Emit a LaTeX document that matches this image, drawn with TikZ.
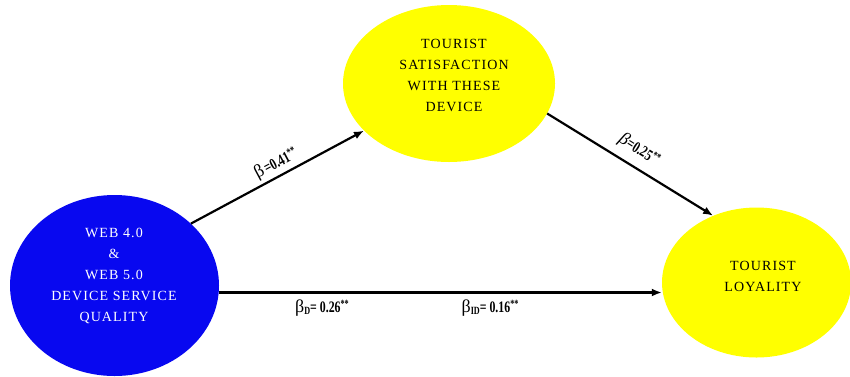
\documentclass[tikz,border=0pt]{standalone}
\usepackage{fontspec}
\usepackage{graphicx}
\setmainfont{Liberation Serif}
\usetikzlibrary{shapes.geometric,arrows.meta}
\definecolor{ovalblue}{RGB}{8,8,240}
\definecolor{ovalyellow}{RGB}{255,255,0}
\newcommand{\ovaltext}{\fontsize{14}{21}\selectfont\addfontfeature{LetterSpace=8}}
\newcommand{\coef}[1]{\scalebox{0.74}[1]{\fontsize{16}{16}\selectfont\bfseries #1}}
\newcommand{\bet}{{\fontsize{18}{18}\selectfont β}}
\newcommand{\ibet}{{\fontsize{18}{18}\selectfont\itshape β}}
\newcommand{\sups}{\raisebox{5pt}{\fontsize{11}{11}\selectfont **}}
\begin{document}
\begin{tikzpicture}[x=1pt,y=-1pt,
  oval/.style={ellipse, draw=none, inner sep=0pt},
  ovallabel/.style={align=center, inner sep=0pt, font=\ovaltext},
  arr/.style={line width=2.2pt, -{Latex[length=10pt,width=8pt]}},
  coeflabel/.style={inner sep=0pt}]
\useasboundingbox[fill=white] (0,0) rectangle (850,376);
% ovals
\node[oval, fill=ovalblue, minimum width=209pt, minimum height=181pt] (web) at (114.5,285.5) {};
\node[oval, fill=ovalyellow, minimum width=212pt, minimum height=157pt] (sat) at (449,83.5) {};
\node[oval, fill=ovalyellow, minimum width=189pt, minimum height=150pt] (loy) at (756.5,282.5) {};
% texts
\node[ovallabel, text=white] (webtxt) at (114,276) {WEB 4.0\\\&\\WEB 5.0\\DEVICE SERVICE\\QUALITY};
\node[ovallabel] (sattxt) at (454,75) {TOURIST\\SATISFACTION\\WITH THESE\\DEVICE};
\node[ovallabel] (loytxt) at (763,276) {TOURIST\\LOYALITY};
% connectors
\coordinate (hy) at (0,292.5);
\draw[arr] (web.39.8) -- (sat.209.7);
\draw[arr] (sat.343.8) -- (loy.123.1);
\draw[arr] (web.east |- hy) -- (loy.west |- hy);
% coefficient labels
\node[coeflabel, rotate=28] (c1) at (276,164) {\bet\,\coef{=0.41\sups}};
\node[coeflabel, rotate=-32] (c2) at (639,150) {\ibet\coef{=0.25\sups}};
\node[coeflabel] (c3) at (322,308) {\bet\coef{\raisebox{-2pt}{\fontsize{11}{11}\selectfont D}= 0.26\sups}};
\node[coeflabel] (c4) at (490,308) {\bet\coef{\raisebox{-2pt}{\fontsize{11}{11}\selectfont ID}= 0.16\sups}};
\end{tikzpicture}
\end{document}
